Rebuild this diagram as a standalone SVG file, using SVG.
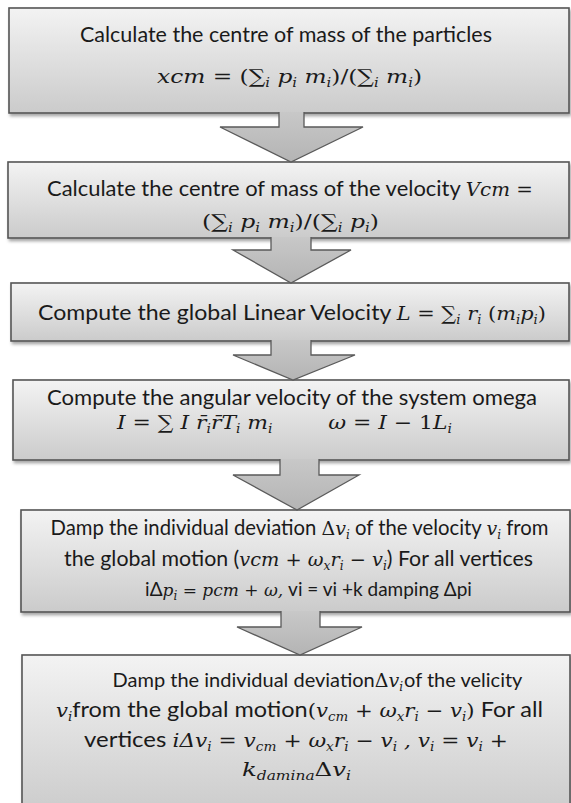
<svg xmlns="http://www.w3.org/2000/svg" width="571" height="803" viewBox="0 0 571 803">
<defs>
<linearGradient id="bg" x1="0" y1="0" x2="0" y2="1">
<stop offset="0" stop-color="#f3f3f3"/>
<stop offset="1" stop-color="#cbcbcb"/>
</linearGradient>
<linearGradient id="ag" x1="0" y1="0" x2="0" y2="1">
<stop offset="0" stop-color="#c8c8c8"/>
<stop offset="1" stop-color="#b4b4b4"/>
</linearGradient>
<filter id="sh" x="-5%" y="-10%" width="110%" height="130%">
<feDropShadow dx="1.5" dy="2.5" stdDeviation="1.8" flood-color="#000" flood-opacity="0.35"/>
</filter>
</defs>
<style>
.box{fill:url(#bg);stroke:#555;stroke-width:1.6;filter:url(#sh)}
.arr{fill:url(#ag);stroke:#5a5a5a;stroke-width:1.3;stroke-linejoin:miter}
text{fill:#1a1a1a;text-anchor:middle}
.t{font-family:Lato,"Open Sans","Liberation Sans",sans-serif;font-size:21px}
.m{font-family:"DejaVu Serif","Liberation Serif",serif;font-style:italic;font-size:19px}
.m2{font-family:"DejaVu Serif","Liberation Serif",serif;font-style:italic;font-size:17px}
.u{font-style:normal}
.s{font-size:12px}
</style>
<rect width="571" height="803" fill="#fff"/>
<g id="node1">
<rect class="box" x="9" y="8" width="560" height="105"/>
<text class="t" x="286" y="42" textLength="412" lengthAdjust="spacingAndGlyphs">Calculate the centre of mass of the particles</text>
<text class="m" x="289.5" y="83" textLength="265" lengthAdjust="spacingAndGlyphs">xcm <tspan class="u">= (∑</tspan><tspan class="s" dy="4">i</tspan><tspan dy="-4"> p</tspan><tspan class="s" dy="4">i</tspan><tspan dy="-4"> m</tspan><tspan class="s" dy="4">i</tspan><tspan class="u" dy="-4">)/(∑</tspan><tspan class="s" dy="4">i</tspan><tspan dy="-4"> m</tspan><tspan class="s" dy="4">i</tspan><tspan class="u" dy="-4">)</tspan></text>
</g>
<g id="node2">
<rect class="box" x="8" y="162" width="561" height="76"/>
<text class="t" x="290" y="196" textLength="486" lengthAdjust="spacingAndGlyphs">Calculate the centre of mass of the velocity <tspan class="m">Vcm</tspan><tspan class="m u"> =</tspan></text>
<text class="m" x="290.5" y="228" textLength="177" lengthAdjust="spacingAndGlyphs"><tspan class="u">(∑</tspan><tspan class="s" dy="4">i</tspan><tspan dy="-4"> p</tspan><tspan class="s" dy="4">i</tspan><tspan dy="-4"> m</tspan><tspan class="s" dy="4">i</tspan><tspan class="u" dy="-4">)/(∑</tspan><tspan class="s" dy="4">i</tspan><tspan dy="-4"> p</tspan><tspan class="s" dy="4">i</tspan><tspan class="u" dy="-4">)</tspan></text>
</g>
<g id="node3">
<rect class="box" x="11" y="283" width="558" height="58"/>
<text class="t" x="292" y="320" textLength="508" lengthAdjust="spacingAndGlyphs">Compute the global Linear Velocity  <tspan class="m">L <tspan class="u">= ∑</tspan><tspan class="s" dy="4">i</tspan><tspan dy="-4"> r</tspan><tspan class="s" dy="4">i</tspan><tspan class="u" dy="-4"> (</tspan>m<tspan class="s" dy="4">i</tspan><tspan dy="-4">p</tspan><tspan class="s" dy="4">i</tspan><tspan class="u" dy="-4">)</tspan></tspan></text>
</g>
<g id="node4">
<rect class="box" x="13" y="380" width="556" height="80"/>
<text class="t" x="292" y="405" textLength="490" lengthAdjust="spacingAndGlyphs">Compute the angular velocity of the system omega</text>
<text class="m" x="284.5" y="429" textLength="335" lengthAdjust="spacingAndGlyphs">I <tspan class="u">= ∑</tspan> I r̄<tspan class="s" dy="4">i</tspan><tspan dy="-4">r̄T</tspan><tspan class="s" dy="4">i</tspan><tspan dy="-4"> m</tspan><tspan class="s" dy="4">i</tspan><tspan dy="-4" xml:space="preserve">        ω </tspan><tspan class="u">=</tspan> I <tspan class="u">− 1</tspan>L<tspan class="s" dy="4">i</tspan></text>
</g>
<g id="node5">
<rect class="box" x="21" y="510" width="549" height="102"/>
<text class="t" x="299.5" y="535" style="font-size:20.3px">Damp the individual deviation <tspan class="m u">Δ</tspan><tspan class="m">v</tspan><tspan class="m s" dy="4">i</tspan><tspan dy="-4"> of the velocity </tspan><tspan class="m">v</tspan><tspan class="m s" dy="4">i</tspan><tspan dy="-4"> from</tspan></text>
<text class="t" x="298.5" y="566" textLength="469" lengthAdjust="spacingAndGlyphs">the global motion (<tspan class="m">vcm <tspan class="u">+</tspan>  ω</tspan><tspan class="m s" dy="4">x</tspan><tspan class="m" dy="-4">r</tspan><tspan class="m s" dy="4">i</tspan><tspan class="m" dy="-4"><tspan class="u"> − </tspan> v</tspan><tspan class="m s" dy="4">i</tspan><tspan dy="-4">) For all vertices</tspan></text>
<text class="t" x="308.5" y="596" style="font-size:19px">iΔ<tspan class="m2">p</tspan><tspan class="m2 s" dy="4">i</tspan><tspan class="m2" dy="-4"><tspan class="u"> = </tspan>pcm <tspan class="u">+</tspan> ω,</tspan><tspan>  vi = vi +k damping Δpi</tspan></text>
</g>
<g id="node6">
<rect class="box" x="22" y="655" width="548" height="160"/>
<text class="t" x="317.5" y="687" style="font-size:20px">Damp the individual deviation<tspan class="m u">Δ</tspan><tspan class="m">v</tspan><tspan class="m s" dy="4">i</tspan><tspan dy="-4" dx="1">of the velicity</tspan></text>
<text class="t" x="299.5" y="717" textLength="487" lengthAdjust="spacingAndGlyphs"><tspan class="m">v</tspan><tspan class="m s" dy="4">i</tspan><tspan dy="-4">from the global motion</tspan><tspan class="m"><tspan class="u">(</tspan>v</tspan><tspan class="m s" dy="4">cm</tspan><tspan class="m" dy="-4"><tspan class="u"> + </tspan>ω</tspan><tspan class="m s" dy="4">x</tspan><tspan class="m" dy="-4">r</tspan><tspan class="m s" dy="4">i</tspan><tspan class="m" dy="-4"><tspan class="u"> − </tspan>v</tspan><tspan class="m s" dy="4">i</tspan><tspan dy="-4"><tspan class="m u">)</tspan> For all</tspan></text>
<text class="t" x="296" y="747" textLength="424" lengthAdjust="spacingAndGlyphs">vertices <tspan class="m">iΔv</tspan><tspan class="m s" dy="4">i</tspan><tspan class="m" dy="-4"><tspan class="u"> = </tspan>v</tspan><tspan class="m s" dy="4">cm</tspan><tspan class="m" dy="-4"><tspan class="u"> + </tspan>ω</tspan><tspan class="m s" dy="4">x</tspan><tspan class="m" dy="-4">r</tspan><tspan class="m s" dy="4">i</tspan><tspan class="m" dy="-4"><tspan class="u"> −  </tspan>v</tspan><tspan class="m s" dy="4">i</tspan><tspan class="m" dy="-4"> , v</tspan><tspan class="m s" dy="4">i</tspan><tspan class="m" dy="-4"><tspan class="u"> = </tspan>v</tspan><tspan class="m s" dy="4">i</tspan><tspan class="m u" dy="-4"> +</tspan></text>
<text class="t" x="296.5" y="776" textLength="109" lengthAdjust="spacingAndGlyphs"><tspan class="m">k</tspan><tspan class="m s" dy="4">damina</tspan><tspan class="m u" dy="-4">Δ</tspan><tspan class="m">v</tspan><tspan class="m s" dy="4">i</tspan></text>
</g>
<g id="connectors">
<path class="arr" d="M279,112 V127 H220 L291,162 L363,127 H304 V112"/>
<path class="arr" d="M271,237 V250 H233 L291,283 L351,250 H311 V237"/>
<path class="arr" d="M271,340 V355 H233 L293,380 L355,355 H311 V340"/>
<path class="arr" d="M280,459 V475 H233 L297,510 L359,475 H319 V459"/>
<path class="arr" d="M281,611 V627 H237 L300,655 L362,627 H320 V611"/>
</g>
</svg>
